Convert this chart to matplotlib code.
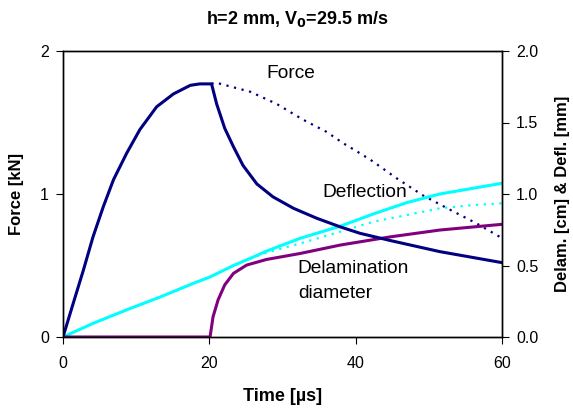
import numpy as np
import matplotlib.pyplot as plt

# datos
t_force = [0, 1.4, 2.8, 4.1, 5.5, 6.9, 8.7, 10.5, 12.8, 15.1, 17.4, 18.7, 20.3,
           21.0, 22.1, 23.3, 24.6, 26.5, 28.7, 31.5, 34.7, 37.9, 40.6, 44.7, 51.5, 60]
force = [0, 0.236, 0.47, 0.70, 0.91, 1.10, 1.285, 1.45, 1.61, 1.70, 1.76, 1.77, 1.77,
         1.63, 1.46, 1.33, 1.20, 1.07, 0.98, 0.90, 0.83, 0.77, 0.725, 0.675, 0.597, 0.52]

t_force_dot = [20.3, 20.8, 25.6, 29.2, 32.8, 36.0, 38.3, 40.1, 42.0, 45.6, 49.2, 52.9, 56.5, 59.7]
force_dot = [1.77, 1.78, 1.715, 1.63, 1.52, 1.435, 1.355, 1.30, 1.24, 1.11, 0.99, 0.89, 0.795, 0.70]

t_defl = [0, 4.1, 8.7, 13.3, 17.8, 20.1, 23.3, 25.6, 27.8, 32.4, 37.9, 42.4, 47.0, 51.5, 60]
defl = [0, 0.095, 0.19, 0.28, 0.375, 0.42, 0.50, 0.55, 0.60, 0.69, 0.775, 0.86, 0.94, 1.0, 1.075]

t_defl_dot = [24.5, 27.8, 32.4, 37.9, 42.4, 47.0, 51.5, 56.1, 60]
defl_dot = [0.53, 0.59, 0.654, 0.736, 0.806, 0.853, 0.90, 0.923, 0.935]

t_delam = [0, 20.1, 20.5, 21.2, 22.1, 23.3, 25.1, 27.8, 32.4, 37.9, 44.7, 51.5, 60]
delam = [0, 0, 0.14, 0.26, 0.364, 0.445, 0.503, 0.542, 0.584, 0.643, 0.70, 0.748, 0.788]

navy = "#000080"
cyan = "#00FFFF"
purple = "#800080"

plt.rcParams['font.family'] = ['Liberation Sans', 'DejaVu Sans']

fig = plt.figure(figsize=(5.73, 4.09), dpi=100)
ax = fig.add_axes([63/573, 1 - 337/409, (502-63)/573, (337-51)/409])

ax.plot(t_force_dot, force_dot, color=navy, linestyle=(0, (1, 2.5)), linewidth=1.6)
ax.plot(t_defl_dot, defl_dot, color=cyan, linestyle=(0, (1, 2.5)), linewidth=1.6)
ax.plot(t_defl, defl, color=cyan, linewidth=2.2)
ax.plot(t_delam, delam, color=purple, linewidth=2.2)
ax.plot(t_force, force, color=navy, linewidth=2.2)

ax.set_xlim(0, 60)
ax.set_ylim(0, 2)
ax.set_xticks([0, 20, 40, 60])
ax.set_yticks([0, 1, 2])
ax.tick_params(direction='out', length=5, labelsize=11.5, pad=5)
ax.tick_params(axis='x', pad=9)

ax2 = ax.twinx()
ax2.set_ylim(0, 2)
ax2.set_yticks([0, 0.5, 1.0, 1.5, 2.0])
ax2.set_yticklabels(["0.0", "0.5", "1.0", "1.5", "2.0"])
ax2.tick_params(direction='out', length=5, labelsize=11.5, pad=5)

for a in (ax, ax2):
    for s in a.spines.values():
        s.set_linewidth(1.0)

ax.set_xlabel("Time [µs]", fontsize=13, fontweight='bold', labelpad=12)
ax.set_ylabel("Force [kN]", fontsize=12, fontweight='bold', labelpad=12)
ax2.set_ylabel("Delam. [cm] & Defl. [mm]", fontsize=12, fontweight='bold', labelpad=12)

fig.text(297/573, 1 - 19/409, r"h=2 mm, V$_\mathbf{0}$=29.5 m/s", ha='center', va='center',
         fontsize=13, fontweight='bold')

ax.text(31.2, 1.846, "Force", fontsize=13.8, ha='center', va='center')
ax.text(41.3, 1.007, "Deflection", fontsize=13.8, ha='center', va='center')
ax.text(32.1, 0.48, "Delamination", fontsize=13.8, ha='left', va='center')
ax.text(32.1, 0.305, "diameter", fontsize=13.8, ha='left', va='center')

fig.savefig("out.png", dpi=100)
